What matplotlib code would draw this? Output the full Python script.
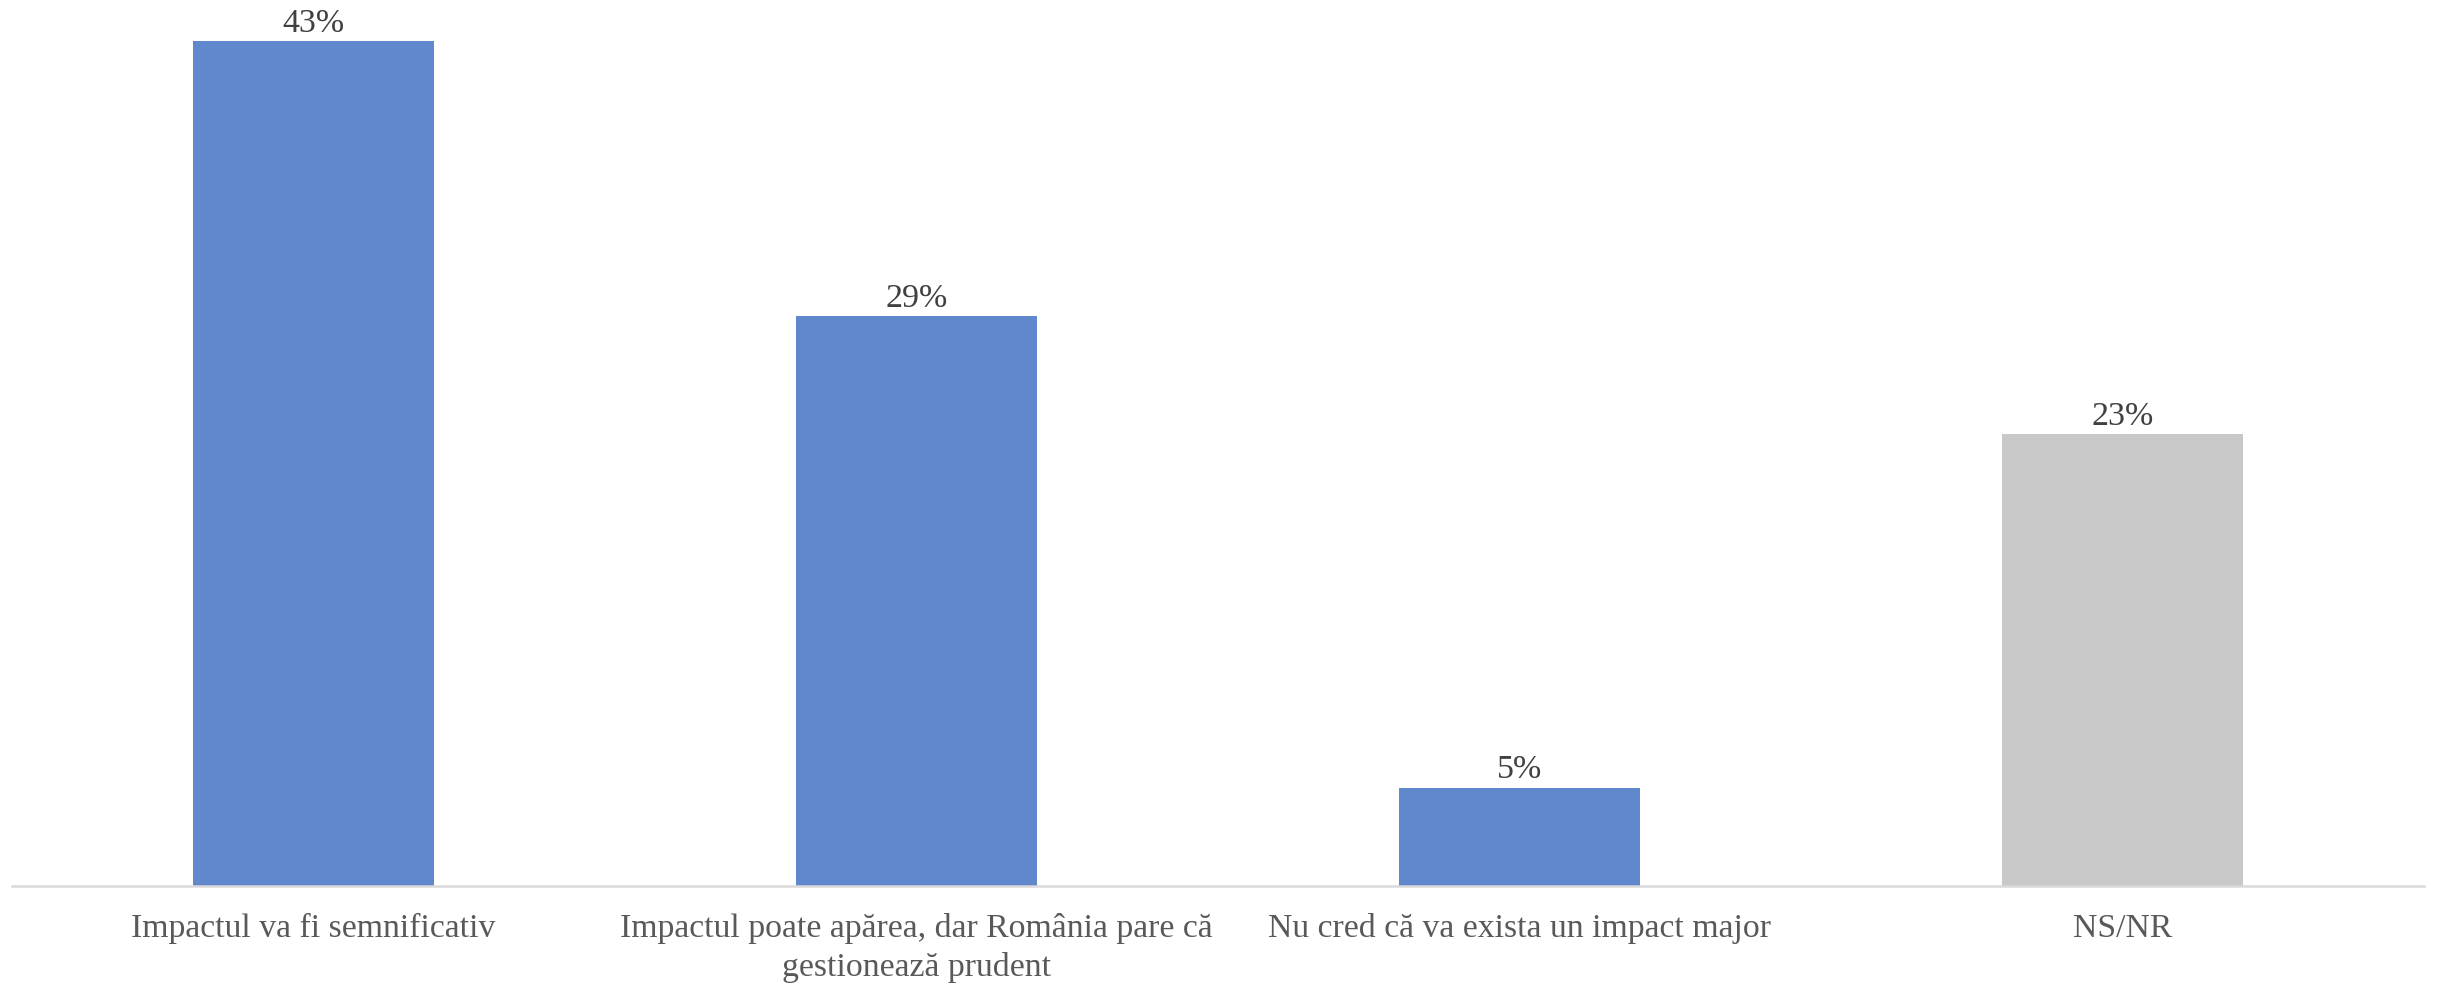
import matplotlib
matplotlib.use("Agg")
import matplotlib.pyplot as plt

categories = [
    "Impactul va fi semnificativ",
    "Impactul poate apărea, dar România pare că\ngestionează prudent",
    "Nu cred că va exista un impact major",
    "NS/NR",
]
values = [43, 29, 5, 23]
value_labels = ["43%", "29%", "5%", "23%"]
colors = ["#6187CC", "#6187CC", "#6187CC", "#C8C8C8"]

plt.rcParams['font.family'] = ['Liberation Serif', 'DejaVu Serif']

fig = plt.figure(figsize=(24.4, 9.87), dpi=100)
ax = fig.add_axes([12/2440, 100/987, (2424-12)/2440, 884/987])

x = list(range(len(categories)))
bars = ax.bar(x, values, width=0.4, color=colors, zorder=2)

for xi, v, lab in zip(x, values, value_labels):
    ax.annotate(lab, (xi, v), xytext=(0, 2.5), textcoords="offset points",
                ha="center", va="bottom", fontsize=24.5, color="#404040")

ax.set_xlim(-0.5, len(categories) - 0.5)
ax.set_ylim(0, 45)
ax.set_xticks(x)
ax.set_xticklabels(categories, fontsize=24.3, color="#595959", linespacing=1.3)
ax.tick_params(axis="x", length=0, pad=19)
ax.set_yticks([])
for s in ["top", "right", "left"]:
    ax.spines[s].set_visible(False)
ax.spines["bottom"].set_color("#D9D9D9")
ax.spines["bottom"].set_linewidth(1.8)

fig.savefig("out.png", dpi=100)
